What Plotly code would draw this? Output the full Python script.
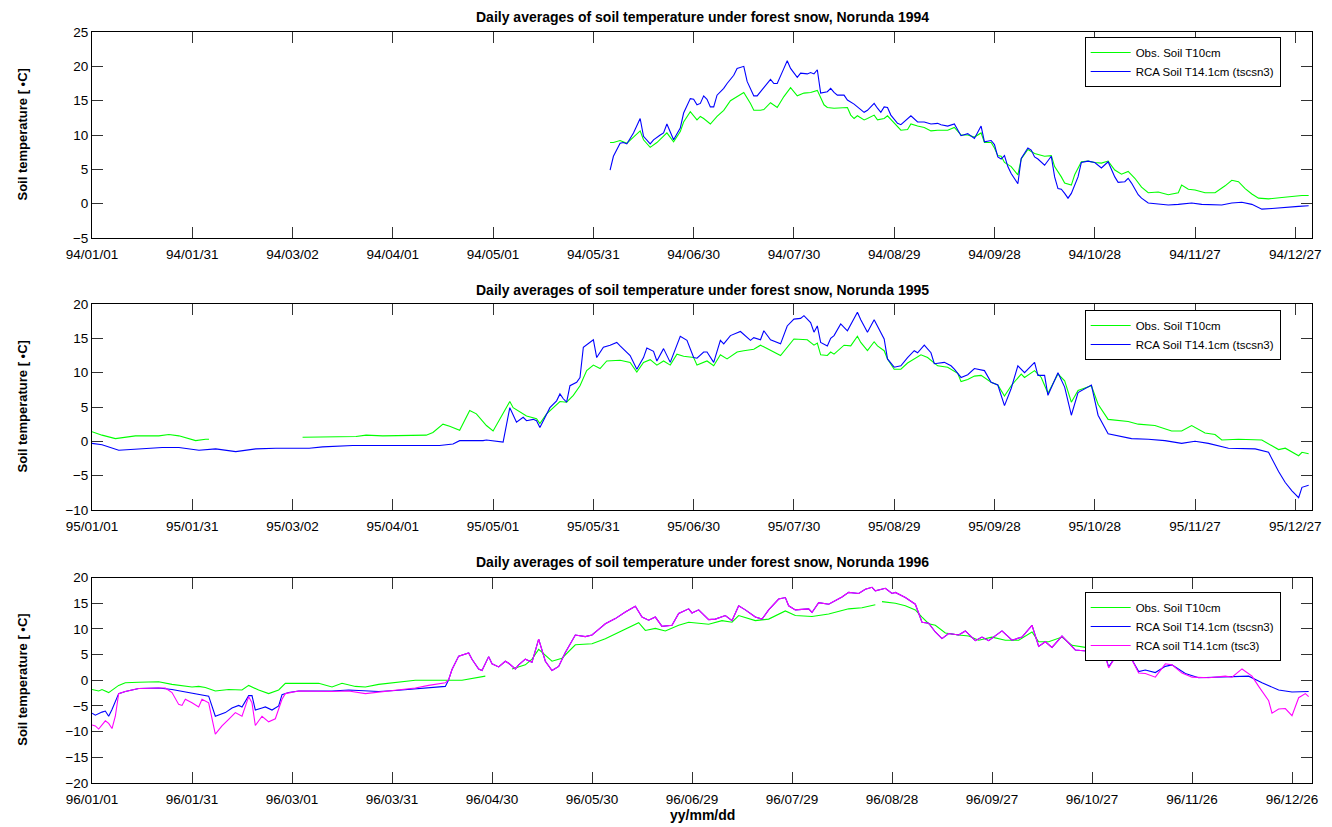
import pandas as pd
import plotly.graph_objects as go

# ---------------- data (day offset from Jan 1, value in deg C) ----------------
# 1994
obs94_days = [155,156,158,159,160,162,164,165,167,169,171,172,174,176,177,179,181,182,183,185,187,189,191,193,195,197,198,200,201,203,205,207,209,211,213,215,217,219,220,222,224,226,227,228,229,231,232,234,235,237,238,240,242,244,245,247,249,251,253,256,258,260,262,264,266,267,269,270,271,272,273,275,277,278,280,282,284,285,287,288,290,291,293,294,296,298,300,302,304,306,308,310,312,314,316,319,322,325,326,328,330,333,336,339,341,343,345,347,349,352,356,359,362,364]
obs94_vals = [8.9,8.9,9.2,9.0,8.8,9.7,10.6,9.3,8.2,8.9,9.8,10.3,9.0,10.5,11.9,13.4,12.2,12.7,12.4,11.6,12.7,13.6,15.0,15.6,16.2,14.6,13.6,13.6,13.7,14.7,14.0,15.6,16.9,15.7,16.1,16.2,16.5,14.4,14.0,13.9,13.9,14.0,12.9,12.4,12.8,12.2,12.4,12.9,12.2,12.4,12.8,11.8,10.7,10.8,11.6,11.3,11.1,10.6,10.7,10.7,11.1,10.0,10.0,9.7,10.3,8.9,8.9,8.1,7.0,6.9,6.0,5.4,4.2,6.5,7.9,7.3,7.1,6.9,7.0,5.4,3.9,3.0,2.7,4.2,6.1,6.2,6.0,5.9,6.2,4.9,4.3,4.7,3.7,2.4,1.6,1.7,1.3,1.6,2.7,2.1,2.0,1.6,1.6,2.6,3.4,3.2,2.2,1.4,0.8,0.7,0.9,1.1,1.2,1.2]

rca94_days = [155,156,158,159,160,162,164,165,167,168,170,171,172,173,174,176,177,179,180,181,182,183,184,185,186,187,189,190,192,193,195,196,198,199,200,201,203,204,205,207,208,209,211,212,214,215,216,217,218,220,221,222,223,225,226,228,229,231,232,234,235,236,237,238,239,241,242,244,245,247,249,251,253,254,256,258,260,262,264,266,267,269,270,271,272,273,274,275,277,278,280,281,282,283,285,287,288,289,290,291,292,293,295,296,298,300,302,304,306,307,309,310,311,313,314,316,319,322,325,329,332,335,338,341,344,347,350,353,357,361,364]
rca94_vals = [4.9,6.9,8.8,8.9,8.7,10.3,12.4,9.8,8.7,9.3,10.0,10.3,11.6,10.5,9.3,11.0,13.2,15.3,15.2,14.4,14.6,15.7,15.2,14.1,14.1,15.8,16.8,17.5,18.7,19.7,20.0,17.8,15.7,15.7,16.3,16.8,18.1,17.5,17.5,19.7,20.8,19.7,18.4,19.0,18.9,19.1,18.9,19.5,16.1,16.3,16.8,16.2,15.8,15.8,15.1,14.5,14.1,13.3,13.6,14.6,13.9,13.3,14.1,14.0,12.9,11.7,11.5,12.3,12.8,11.9,11.9,11.6,11.7,11.5,11.3,11.6,9.9,10.2,9.5,11.3,9.0,9.2,8.6,6.8,6.5,7.0,5.4,4.4,2.9,6.6,8.1,7.8,6.8,6.5,5.6,6.9,3.9,2.2,2.1,1.5,0.8,1.5,3.9,6.0,6.2,6.0,5.2,6.1,3.9,3.1,3.2,3.7,3.0,1.3,0.8,0.1,-0.1,-0.2,-0.1,0.1,-0.1,-0.2,-0.2,0.1,0.2,-0.1,-0.8,-0.7,-0.5,-0.4,-0.3]

# 1995
obs95_days = [0,3,7,13,20,23,26,29,31,34,35,36,63,69,79,82,87,100,102,105,107,110,113,115,118,120,122,125,126,128,130,133,134,136,138,140,142,144,146,148,150,152,154,158,161,163,165,167,169,171,173,175,177,180,181,184,186,188,190,193,195,198,200,202,206,210,214,216,217,218,220,221,222,225,227,229,230,232,234,235,237,238,240,242,244,248,250,253,256,259,260,262,264,266,269,271,273,275,278,279,282,284,286,289,291,293,295,299,301,304,307,310,313,318,323,326,329,333,336,338,343,350,355,357,361,362,364]
obs95_vals = [1.4,0.9,0.4,0.8,0.8,1.0,0.8,0.4,0.1,0.3,0.3,None,0.6,0.6,0.7,0.9,0.8,0.9,1.3,2.5,2.2,1.6,4.5,4.0,2.3,1.5,3.2,5.8,4.9,4.3,3.7,3.3,2.6,4.0,4.9,5.8,5.7,6.7,8.1,10.3,11.1,10.6,11.7,11.8,11.5,10.1,11.5,11.9,11.1,11.7,11.1,12.7,12.4,12.2,11.1,11.7,11.0,12.6,12.0,13.0,13.2,13.4,14.0,13.5,12.5,14.9,14.8,14.0,14.3,12.6,12.5,13.0,12.7,14.0,13.9,15.3,14.4,13.2,14.5,13.9,13.2,12.0,10.5,10.5,11.4,12.6,12.2,11.0,10.8,9.9,8.7,9.0,9.5,9.6,8.6,8.2,6.6,8.1,9.8,9.3,10.3,9.3,7.0,9.8,8.8,5.7,7.4,8.1,5.4,3.2,3.0,2.9,2.5,2.3,1.5,1.5,2.3,1.2,1.0,0.2,0.3,0.2,-1.2,-1.0,-2.1,-1.6,-1.8]

rca95_days = [0,3,8,17,21,26,32,37,43,49,55,65,69,78,89,104,108,110,117,118,123,125,127,129,130,132,133,134,137,139,140,141,142,143,145,146,147,150,151,153,155,157,158,161,163,165,166,168,169,171,173,176,178,180,181,183,184,186,188,189,191,194,197,198,200,201,203,206,208,210,212,213,215,216,217,218,220,221,222,224,226,229,230,232,234,235,237,238,240,242,244,246,247,249,251,252,255,257,258,260,262,264,267,269,271,273,275,277,279,282,283,285,286,289,291,293,295,299,301,304,307,311,316,321,326,330,334,340,348,352,355,357,359,361,362,364]
rca95_vals = [-0.3,-0.5,-1.3,-1.0,-0.9,-0.9,-1.3,-1.1,-1.5,-1.1,-1.0,-1.0,-0.8,-0.6,-0.6,-0.6,-0.4,0.1,0.1,0.2,-0.1,4.9,2.8,3.5,3.0,3.2,3.0,2.0,4.9,5.9,6.9,6.2,5.7,8.1,8.6,9.3,13.7,14.8,12.2,13.7,14.0,14.4,13.9,12.5,10.5,12.2,13.6,13.1,11.7,13.5,11.5,15.3,14.7,12.2,12.1,13.0,13.0,11.5,14.7,14.2,15.4,16.0,14.7,15.1,14.8,16.1,14.8,14.2,16.8,17.8,17.9,18.3,17.3,15.9,16.8,14.4,13.9,15.0,15.4,17.1,16.1,18.8,17.7,15.9,17.7,16.8,14.9,12.0,10.8,11.0,12.2,13.2,12.9,14.0,12.9,11.3,11.5,11.0,10.5,9.3,9.7,10.6,10.3,8.6,8.2,5.2,7.7,11.0,10.0,11.5,9.6,9.6,6.7,10.0,7.9,3.8,7.1,8.2,3.8,1.1,0.8,0.4,0.3,0.1,-0.3,0.0,-0.3,-1.0,-1.1,-1.6,-4.4,-6.0,-7.2,-8.2,-6.7,-6.4]

# 1996
obs96_days = [0,2,3,5,8,10,14,20,24,27,30,32,34,37,41,45,47,50,53,56,58,62,68,72,75,79,82,86,91,97,106,111,118,121,126,130,132,134,138,141,145,150,154,159,164,166,169,172,176,179,185,189,192,194,199,203,208,211,216,221,227,231,235,236,237,241,244,247,249,251,253,256,260,263,266,270,274,278,282,284,287,291,294,298,300,302,305,308,310]
obs96_vals = [-1.8,-2.1,-1.8,-2.4,-1.0,-0.5,-0.4,-0.3,-0.8,-1.0,-1.3,-1.2,-1.4,-2.1,-1.8,-1.9,-1.0,-1.9,-2.6,-1.9,-0.6,-0.6,-0.6,-1.3,-0.6,-1.2,-1.3,-0.8,-0.5,0.0,0.0,0.0,0.8,None,2.2,3.0,4.1,6.0,3.7,4.3,6.9,7.1,8.1,9.7,11.2,9.7,10.1,9.6,10.7,11.3,10.9,11.6,11.3,12.6,11.6,11.9,13.5,12.6,12.4,12.9,13.9,14.1,14.7,None,15.3,15.0,14.5,13.7,12.3,11.0,10.7,9.2,8.8,8.6,7.8,8.4,7.8,7.8,9.4,7.5,7.5,8.4,6.8,6.4,6.5,7.0,5.0,6.3,6.6]

tsc3_96_days = [0,1,2,4,5,6,7,8,10,14,20,22,24,26,27,28,30,32,33,35,37,39,41,43,45,47,48,49,51,53,55,57,58,62,72,77,82,86,91,97,101,106,107,108,110,113,114,116,117,119,120,122,124,125,127,128,130,132,134,136,138,140,142,145,148,150,152,154,157,160,163,165,167,169,171,174,176,179,180,182,185,187,190,192,194,196,199,201,203,206,208,209,211,215,216,218,221,225,227,230,232,234,235,238,240,241,244,247,249,251,253,255,257,260,262,265,267,269,273,276,279,282,284,286,288,291,295,300,303,304,305,307,308,311,312,314,316,319,322,324,327,330,335,340,342,345,348,350,353,354,356,358,360,362,364,365]
tsc3_96_vals = [-8.7,-8.9,-9.5,-7.9,-8.4,-9.4,-7.0,-2.6,-2.2,-1.6,-1.5,-1.5,-2.4,-4.7,-4.9,-3.7,-4.4,-5.2,-3.7,-4.4,-10.5,-8.9,-7.6,-6.3,-7.0,-3.2,-4.4,-8.8,-7.0,-8.1,-7.5,-3.7,-2.6,-2.1,-2.2,-2.1,-2.6,-2.3,-2.0,-1.5,-1.0,-0.5,0.1,2.1,4.7,5.3,4.1,2.2,1.9,4.6,3.2,2.6,3.7,3.3,2.2,3.0,4.1,3.5,8.0,3.7,1.9,2.7,5.4,8.8,8.5,8.8,9.9,11.0,12.0,13.3,14.4,12.3,11.7,12.3,10.5,10.7,13.0,13.9,13.1,13.7,11.8,11.9,12.6,11.6,14.5,13.7,12.3,11.9,13.7,15.8,16.1,14.5,13.7,13.9,13.2,15.1,14.8,16.2,17.1,16.9,17.7,18.1,17.4,17.9,16.9,17.1,16.1,14.8,11.3,11.1,9.4,8.1,9.1,8.8,9.6,7.7,8.4,7.7,9.6,7.8,8.4,10.7,6.6,7.5,6.4,8.6,5.9,5.6,6.8,4.6,2.4,4.5,6.2,6.2,4.0,1.4,1.3,0.6,3.2,3.0,1.4,0.6,0.5,0.8,0.6,2.2,0.8,-1.2,-4.0,-6.4,-5.6,-5.5,-6.9,-3.4,-2.6,-3.2]

# tscsn3 run 1996: own values where it differs, hidden under tsc3 elsewhere
tscsn3_96_early_days = [0,1,3,4,5,6,8,10,14,20,24,28,33,35,37,40,42,44,45,47,48,49,51,52,54,56,57,59,62,72,77,82,86,91,97,106]
tscsn3_96_early_vals = [-6.4,-6.8,-6.2,-6.0,-7.0,-5.7,-2.6,-2.2,-1.6,-1.5,-1.8,-2.3,-2.8,-3.1,-7.0,-6.3,-5.4,-4.9,-5.2,-3.0,-3.0,-5.8,-5.4,-5.2,-5.8,-5.0,-2.8,-2.4,-2.1,-2.1,-1.9,-2.1,-2.2,-2.0,-1.7,-1.2]
tscsn3_96_late_days = [305,307,308,311,312,314,316,319,322,324,328,332,340,347,351,356,360,365]
tscsn3_96_late_vals = [2.6,4.5,6.2,6.2,4.0,1.7,2.0,1.5,2.7,3.0,1.3,0.5,0.6,0.8,-0.5,-1.9,-2.3,-2.2]
shared_from, shared_to = 107, 304

ticks94 = ["94/01/01","94/01/31","94/03/02","94/04/01","94/05/01","94/05/31","94/06/30","94/07/30","94/08/29","94/09/28","94/10/28","94/11/27","94/12/27"]
ticks95 = ["95/01/01","95/01/31","95/03/02","95/04/01","95/05/01","95/05/31","95/06/30","95/07/30","95/08/29","95/09/28","95/10/28","95/11/27","95/12/27"]
ticks96 = ["96/01/01","96/01/31","96/03/01","96/03/31","96/04/30","96/05/30","96/06/29","96/07/29","96/08/28","96/09/27","96/10/27","96/11/26","96/12/26"]

titles = ["Daily averages of soil temperature under forest snow, Norunda 1994",
          "Daily averages of soil temperature under forest snow, Norunda 1995",
          "Daily averages of soil temperature under forest snow, Norunda 1996"]
ylims = [(-5, 25), (-10, 20), (-20, 20)]
name_obs = "Obs. Soil T10cm"
name_tscsn3 = "RCA Soil T14.1cm (tscsn3)"
name_tsc3 = "RCA soil T14.1cm (tsc3)"

# ---------------- helpers ----------------
def to_dates(year, days):
    base = pd.Timestamp(f"{year}-01-01")
    return [(base + pd.Timedelta(days=d)).strftime("%Y-%m-%d") for d in days]

def tick_dates(labels):
    return [pd.to_datetime("19" + t, format="%Y/%m/%d").strftime("%Y-%m-%d") for t in labels]

sel = [i for i, d in enumerate(tsc3_96_days) if shared_from <= d <= shared_to]
tscsn3_96_days = tscsn3_96_early_days + [tsc3_96_days[i] for i in sel] + tscsn3_96_late_days
tscsn3_96_vals = tscsn3_96_early_vals + [tsc3_96_vals[i] for i in sel] + tscsn3_96_late_vals

GREEN, BLUE, MAGENTA = "#00FF00", "#0000FF", "#FF00FF"
FONT = "Liberation Sans, Arial, sans-serif"

# ---------------- layout geometry ----------------
W, H = 1332, 827
ML, MR, MT, MB = 92, 11, 32, 44
PH = H - MT - MB
PW = W - ML - MR
def py(y_px):
    return min(1.0, max(0.0, 1 - (y_px - MT) / PH))

domains = [(py(238), py(32)), (py(510), py(304)), (py(783), py(577.5))]

fig = go.Figure()

series = [
    (1994, [(obs94_days, obs94_vals, name_obs, GREEN), (rca94_days, rca94_vals, name_tscsn3, BLUE)]),
    (1995, [(obs95_days, obs95_vals, name_obs, GREEN), (rca95_days, rca95_vals, name_tscsn3, BLUE)]),
    (1996, [(obs96_days, obs96_vals, name_obs, GREEN), (tscsn3_96_days, tscsn3_96_vals, name_tscsn3, BLUE),
            (tsc3_96_days, tsc3_96_vals, name_tsc3, MAGENTA)]),
]

for k, (year, lines) in enumerate(series):
    ax = "" if k == 0 else str(k + 1)
    leg = "legend" if k == 0 else f"legend{k + 1}"
    for days, vals, name, col in lines:
        fig.add_trace(go.Scatter(
            x=to_dates(year, days), y=vals, mode="lines", name=name,
            line=dict(color=col, width=1.1), connectgaps=False,
            xaxis="x" + ax, yaxis="y" + ax, legend=leg, showlegend=True))

axis_common = dict(showline=True, linecolor="black", linewidth=1, mirror="allticks",
                   ticks="inside", ticklen=11, tickwidth=1, tickcolor="#333333",
                   showgrid=False, zeroline=False,
                   tickfont=dict(family=FONT, size=13.5, color="black"))

tick_sets = [ticks94, ticks95, ticks96]
layout = dict(width=W, height=H, margin=dict(l=ML, r=MR, t=MT, b=MB),
              plot_bgcolor="white", paper_bgcolor="white", showlegend=True,
              font=dict(family=FONT, size=12, color="black"))
annotations = []
legend_tops = [37, 310, 592]
title_ys = [17, 290, 562]
for k in range(3):
    ax = "" if k == 0 else str(k + 1)
    year = 1994 + k
    xa = dict(axis_common, type="date", anchor="y" + ax,
              range=[f"{year}-01-01", f"{year + 1}-01-01"],
              tickvals=tick_dates(tick_sets[k]), ticktext=tick_sets[k],
              ticklabelstandoff=4)
    ya = dict(axis_common, anchor="x" + ax, domain=list(domains[k]),
              range=list(ylims[k]), dtick=5, tick0=0)
    layout["xaxis" + ax] = xa
    layout["yaxis" + ax] = ya
    leg = dict(x=(1092 - ML) / PW, y=py(legend_tops[k]), xanchor="left", yanchor="top",
               bgcolor="white", bordercolor="black", borderwidth=1,
               font=dict(family=FONT, size=11.5, color="black"), tracegroupgap=0,
               itemwidth=40)
    layout["legend" if k == 0 else f"legend{k + 1}"] = leg
    annotations.append(dict(text=f"<b>{titles[k]}</b>", xref="paper", yref="paper",
                            x=0.5, y=1 - (title_ys[k] - MT) / PH, xanchor="center", yanchor="middle",
                            showarrow=False, font=dict(family=FONT, size=14, color="black")))
    yc = (domains[k][0] + domains[k][1]) / 2
    annotations.append(dict(text="<b>Soil temperature [ \u2022C]</b>", xref="paper", yref="paper",
                            x=(22 - ML) / PW, y=yc, xanchor="center", yanchor="middle",
                            textangle=-90, showarrow=False,
                            font=dict(family=FONT, size=13, color="black")))
annotations.append(dict(text="<b>yy/mm/dd</b>", xref="paper", yref="paper",
                        x=0.5, y=1 - (815 - MT) / PH, xanchor="center", yanchor="middle", showarrow=False,
                        font=dict(family=FONT, size=14, color="black")))
layout["annotations"] = annotations
fig.update_layout(**layout)
fig.write_html("out.html")
